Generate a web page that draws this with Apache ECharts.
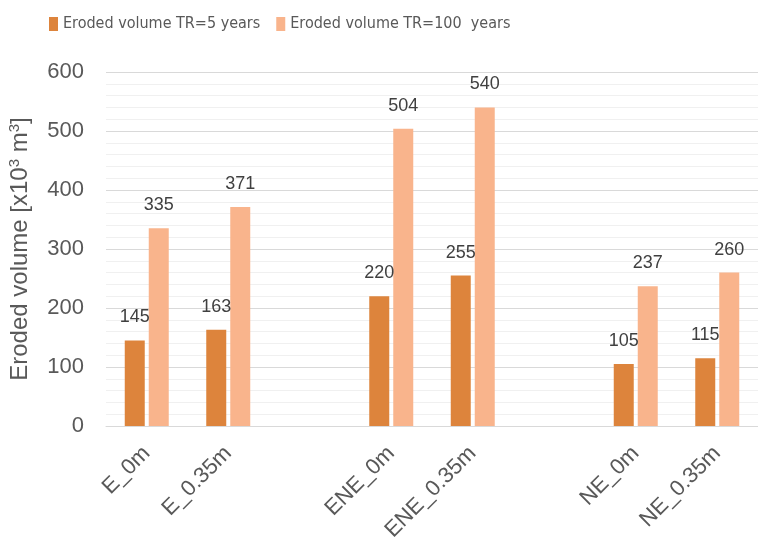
<!DOCTYPE html>
<html>
<head>
<meta charset="utf-8">
<script src="https://cdn.jsdelivr.net/npm/echarts@6/dist/echarts.min.js"></script>
<style>
  html, body { margin: 0; padding: 0; background: #fff; }
  #chart { width: 758px; height: 537px; }
</style>
</head>
<body>
<div id="chart"></div>
<script>
  // categories, blank ones keep the gaps between the groups
  var categories = ['E_0m', 'E_0.35m', '', 'ENE_0m', 'ENE_0.35m', '', 'NE_0m', 'NE_0.35m']
  var tr5 = [145, 163, '-', 220, 255, '-', 105, 115]
  var tr100 = [335, 371, '-', 504, 540, '-', 237, 260]
  var seriesNames = ['Eroded volume TR=5 years', 'Eroded volume TR=100  years']

  var myChart = echarts.init(document.getElementById('chart'))

  var labelStyle = {
    show: true,
    position: 'top',
    distance: 14,
    color: '#404040',
    fontSize: 18,
    fontFamily: 'Liberation Sans, Arial'
  }

  var option = {
    backgroundColor: '#fff',
    animation: false,
    legend: {
      top: 11,
      left: 44,
      icon: 'rect',
      itemWidth: 9,
      itemHeight: 14,
      itemGap: 16,
      textStyle: {
        color: '#595959',
        fontSize: 16,
        fontFamily: 'Liberation Sans Narrow, DejaVu Sans Condensed, sans-serif'
      },
      data: seriesNames
    },
    grid: {
      left: 106,
      right: 0,
      top: 72,
      bottom: 111,
      outerBoundsMode: 'none'
    },
    xAxis: {
      type: 'category',
      data: categories,
      axisLine: { lineStyle: { color: '#d9d9d9' } },
      axisTick: { show: false },
      axisLabel: {
        interval: 0,
        rotate: 45,
        margin: 24,
        color: '#595959',
        fontSize: 22,
        fontFamily: 'Liberation Sans, Arial'
      }
    },
    yAxis: {
      type: 'value',
      min: 0,
      max: 600,
      interval: 100,
      name: 'Eroded volume [x10{sup|3} m{sup|3}]',
      nameLocation: 'middle',
      nameGap: 72,
      nameTextStyle: {
        color: '#595959',
        fontSize: 24,
        fontFamily: 'Liberation Sans, Arial',
        rich: {
          sup: { fontSize: 15, color: '#595959', verticalAlign: 'top', padding: [0, 0, 12, 0] }
        }
      },
      axisLine: { show: false },
      axisTick: { show: false },
      axisLabel: {
        margin: 22,
        color: '#595959',
        fontSize: 22,
        fontFamily: 'Liberation Sans, Arial'
      },
      splitLine: { lineStyle: { color: '#d9d9d9' } },
      minorTick: { show: false, splitNumber: 5 },
      minorSplitLine: { show: true, lineStyle: { color: '#f0f0f0' } }
    },
    series: [
      {
        name: seriesNames[0],
        type: 'bar',
        barWidth: 20,
        barGap: '20%',
        itemStyle: { color: '#dd843c' },
        label: labelStyle,
        data: tr5
      },
      {
        name: seriesNames[1],
        type: 'bar',
        barWidth: 20,
        itemStyle: { color: '#f9b48c' },
        label: labelStyle,
        data: tr100
      }
    ]
  }
  myChart.setOption(option)
</script>
</body>
</html>
